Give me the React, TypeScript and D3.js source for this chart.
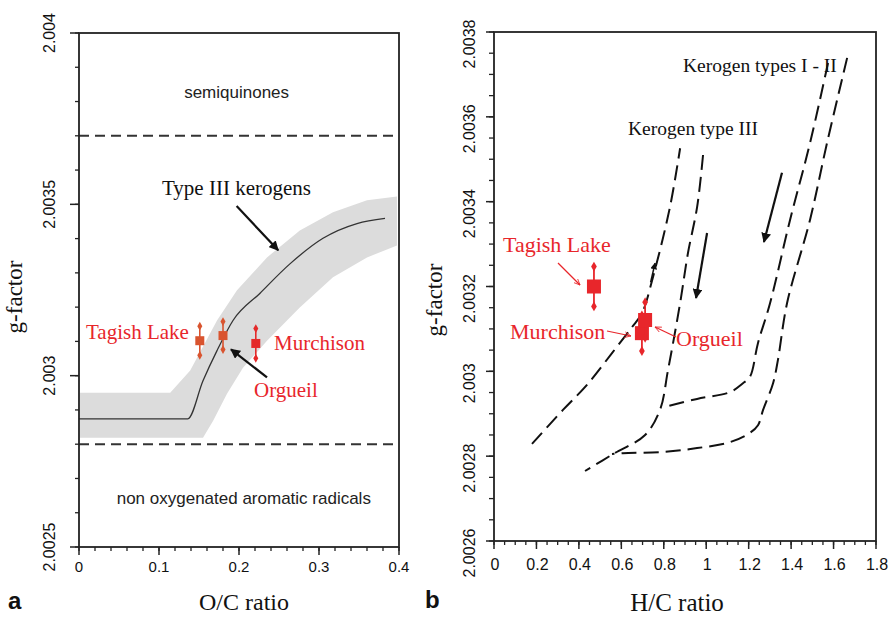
import React, { useEffect } from 'react';
import * as d3 from 'd3';

// ---- panel a : O/C ratio ----
const aXTicks = [0, 0.1, 0.2, 0.3, 0.4];
const aYTicks = [2.0025, 2.003, 2.0035, 2.004];
const aBoundaries = [2.0037, 2.0028];

const aTrend = [
  [0, 2.002874], [0.136, 2.002874], [0.155, 2.002985], [0.1725, 2.003073],
  [0.1925, 2.003161], [0.226, 2.00324], [0.264, 2.003327], [0.305, 2.003401],
  [0.3475, 2.003444], [0.3825, 2.003459],
];
const aBandTop = [
  [0.001, 2.00295], [0.114, 2.00295], [0.139, 2.003015], [0.1725, 2.003161],
  [0.1975, 2.003249], [0.235, 2.003345], [0.276, 2.003424], [0.3175, 2.003477],
  [0.36, 2.003512], [0.3975, 2.003523],
];
const aBandBottom = [
  [0.3975, 2.00338], [0.36, 2.003345], [0.3175, 2.003287], [0.276, 2.003199],
  [0.235, 2.003102], [0.205, 2.003023], [0.185, 2.002947], [0.1675, 2.002868],
  [0.155, 2.002819], [0.001, 2.002819],
];

const aSamples = [
  { name: 'Tagish Lake', oc: 0.151, g: 2.003102, err: 0.0000425, color: '#d9542f' },
  { name: 'Orgueil', oc: 0.18, g: 2.003117, err: 0.000041, color: '#d9542f' },
  { name: 'Murchison', oc: 0.221, g: 2.003094, err: 0.0000435, color: '#e42a2a' },
];

// ---- panel b : H/C ratio ----
const bXTicks = [0, 0.2, 0.4, 0.6, 0.8, 1, 1.2, 1.4, 1.6, 1.8];
const bYTicks = [2.0026, 2.0028, 2.003, 2.0032, 2.0034, 2.0036, 2.0038];

const bTypeIIIa = [
  [0.179, 2.002829], [0.325, 2.002909], [0.438, 2.002968], [0.556, 2.003043],
  [0.65, 2.003104], [0.697, 2.003137], [0.749, 2.003222], [0.829, 2.003387],
  [0.877, 2.003526],
];
const bTypeIIIb = [
  [0.985, 2.00351], [0.957, 2.003387], [0.914, 2.003279], [0.877, 2.003161],
  [0.82, 2.003003], [0.782, 2.002909], [0.712, 2.00285], [0.561, 2.002805],
  [0.429, 2.002765],
];
const bTypeIa = [
  [1.574, 2.003727], [1.489, 2.003538], [1.395, 2.003357], [1.301, 2.003161],
  [1.244, 2.003067], [1.206, 2.002987], [1.173, 2.002972], [1.112, 2.002951],
  [0.957, 2.002935], [0.82, 2.002918],
];
const bTypeIb = [
  [1.664, 2.003739], [1.569, 2.003538], [1.489, 2.003357], [1.381, 2.003161],
  [1.338, 2.003027], [1.315, 2.002972], [1.268, 2.002909], [1.244, 2.002873],
  [1.206, 2.002855], [1.112, 2.002833], [0.957, 2.002819], [0.796, 2.00281],
  [0.608, 2.002807], [0.556, 2.002805],
];
const bArrows = [
  [[1.357, 2.003468], [1.272, 2.003305]],
  [[1.004, 2.003326], [0.952, 2.003173]],
  [[0.738, 2.00321], [0.759, 2.003255]],
];

const bSamples = [
  { name: 'Tagish Lake', hc: 0.471, g: 2.0032, err: 0.000047 },
  { name: 'Murchison', hc: 0.697, g: 2.00309, err: 0.000042 },
  { name: 'Orgueil', hc: 0.712, g: 2.003121, err: 0.000042 },
];

const serif = '"Liberation Serif", "Times New Roman", serif';
const sans = '"Liberation Sans", Arial, sans-serif';
const red = '#e8262b';
const ink = '#111';

export default function App() {
  useEffect(() => {
    document.body.style.margin = '0';
  }, []);

  const aX = d3.scaleLinear().domain([0, 0.4]).range([79, 399]);
  const aY = d3.scaleLinear().domain([2.0025, 2.004]).range([547, 33]);
  const bX = d3.scaleLinear().domain([0, 1.8]).range([494, 876]);
  const bY = d3.scaleLinear().domain([2.0026, 2.0038]).range([541, 32]);

  const aLine = d3.line().x(d => aX(d[0])).y(d => aY(d[1])).curve(d3.curveMonotoneX);
  const bandLine = d3.line().x(d => aX(d[0])).y(d => aY(d[1])).curve(d3.curveLinearClosed);
  const bLine = d3.line().x(d => bX(d[0])).y(d => bY(d[1])).curve(d3.curveCatmullRom);

  const fmt = d3.format('.5~f');
  const aXMinor = d3.range(0, 0.4001, 0.02);
  const aYMinor = d3.range(2.0025, 2.00400001, 0.0001);
  const bXMinor = d3.range(0, 1.8001, 0.05);
  const bYMinor = d3.range(2.0026, 2.00380001, 0.00005);

  const diamond = d3.symbol().type(d3.symbolDiamond);

  return (
    <svg width={890} height={617} style={{ display: 'block', background: '#fff' }}>
      <defs>
        <marker id="headBlack" viewBox="0 0 10 10" refX="9" refY="5" markerWidth="4.5" markerHeight="4.5" orient="auto">
          <path d="M0,0 L10,5 L0,10 z" fill={ink} />
        </marker>
        <marker id="headRed" viewBox="0 0 10 10" refX="9" refY="5" markerWidth="7" markerHeight="7" orient="auto" markerUnits="userSpaceOnUse">
          <path d="M0,1 L9,5 L0,9" fill="none" stroke={red} strokeWidth="1.2" />
        </marker>
      </defs>

      {/* ======== panel a ======== */}
      <path d={bandLine([...aBandTop, ...aBandBottom]) || ''} fill="#dcdcdc" />
      <path d={aLine(aTrend) || ''} fill="none" stroke="#333" strokeWidth={1.3} />
      {aBoundaries.map(v => (
        <line key={v} x1={aX(0)} x2={aX(0.4)} y1={aY(v)} y2={aY(v)}
          stroke="#333" strokeWidth={2} strokeDasharray="10,6" />
      ))}
      <rect x={aX(0)} y={aY(2.004)} width={aX(0.4) - aX(0)} height={aY(2.0025) - aY(2.004)}
        fill="none" stroke="#222" strokeWidth={1.8} />

      {aXMinor.map(v => (
        <line key={'axm' + v} x1={aX(v)} x2={aX(v)} y1={aY(2.0025)} y2={aY(2.0025) + 4} stroke="#222" strokeWidth={1.3} />
      ))}
      {aXTicks.map(v => (
        <g key={'axt' + v}>
          <line x1={aX(v)} x2={aX(v)} y1={aY(2.0025)} y2={aY(2.0025) + 8} stroke="#222" strokeWidth={1.5} />
          <text x={aX(v)} y={572} textAnchor="middle" fontFamily={sans} fontSize={15} fill={ink}>{fmt(v)}</text>
        </g>
      ))}
      {aYMinor.map(v => (
        <line key={'aym' + v} x1={aX(0) - 4} x2={aX(0)} y1={aY(v)} y2={aY(v)} stroke="#222" strokeWidth={1.3} />
      ))}
      {aYTicks.map(v => (
        <g key={'ayt' + v}>
          <line x1={aX(0) - 9} x2={aX(0)} y1={aY(v)} y2={aY(v)} stroke="#222" strokeWidth={1.5} />
          <text transform={`translate(55,${aY(v)}) rotate(-90)`} textAnchor="middle" fontFamily={sans} fontSize={16} fill={ink}>{fmt(v)}</text>
        </g>
      ))}

      <text x={aX(0.197)} y={98} textAnchor="middle" fontFamily={sans} fontSize={17} fill="#222">semiquinones</text>
      <text x={aX(0.206)} y={504} textAnchor="middle" fontFamily={sans} fontSize={17} fill="#222">non oxygenated aromatic radicals</text>
      <text x={162} y={195} fontFamily={serif} fontSize={21} fill={ink}>Type III kerogens</text>
      <line x1={aX(0.197)} y1={aY(2.003495)} x2={aX(0.249)} y2={aY(2.003366)} stroke={ink} strokeWidth={2.2} markerEnd="url(#headBlack)" />

      {aSamples.map(s => (
        <g key={'as' + s.name}>
          <line x1={aX(s.oc)} x2={aX(s.oc)} y1={aY(s.g - s.err)} y2={aY(s.g + s.err)} stroke={s.color} strokeWidth={1.6} />
          <path d={diamond.size(22)() || ''} transform={`translate(${aX(s.oc)},${aY(s.g + s.err)})`} fill={s.color} />
          <path d={diamond.size(22)() || ''} transform={`translate(${aX(s.oc)},${aY(s.g - s.err)})`} fill={s.color} />
          <rect x={aX(s.oc) - 4.5} y={aY(s.g) - 4.5} width={9} height={9} fill={s.color} />
        </g>
      ))}
      <text x={86} y={339} fontFamily={serif} fontSize={21} fill={red}>Tagish Lake</text>
      <text x={274} y={350} fontFamily={serif} fontSize={21} fill={red}>Murchison</text>
      <text x={254} y={397} fontFamily={serif} fontSize={21} fill={red}>Orgueil</text>
      <line x1={aX(0.235)} y1={aY(2.002995)} x2={aX(0.19)} y2={aY(2.003077)} stroke={ink} strokeWidth={2.2} markerEnd="url(#headBlack)" />

      <text x={8} y={609} fontFamily={sans} fontWeight="bold" fontSize={24} fill={ink}>a</text>
      <text x={244} y={610} textAnchor="middle" fontFamily={serif} fontSize={24} fill={ink}>O/C ratio</text>
      <text transform={`translate(22,297) rotate(-90)`} textAnchor="middle" fontFamily={serif} fontSize={23} fill={ink}>g-factor</text>

      {/* ======== panel b ======== */}
      <rect x={bX(0)} y={bY(2.0038)} width={bX(1.8) - bX(0)} height={bY(2.0026) - bY(2.0038)}
        fill="none" stroke="#222" strokeWidth={1.8} />
      {bXMinor.map(v => (
        <line key={'bxm' + v} x1={bX(v)} x2={bX(v)} y1={bY(2.0026)} y2={bY(2.0026) + 4} stroke="#222" strokeWidth={1.3} />
      ))}
      {bXTicks.map(v => (
        <g key={'bxt' + v}>
          <line x1={bX(v)} x2={bX(v)} y1={bY(2.0026)} y2={bY(2.0026) + 8} stroke="#222" strokeWidth={1.5} />
          <text x={bX(v) + 1} y={570} textAnchor="middle" fontFamily={sans} fontSize={16} fill={ink}>{fmt(v)}</text>
        </g>
      ))}
      {bYMinor.map(v => (
        <line key={'bym' + v} x1={bX(0) - 5} x2={bX(0)} y1={bY(v)} y2={bY(v)} stroke="#222" strokeWidth={1.3} />
      ))}
      {bYTicks.map(v => (
        <g key={'byt' + v}>
          <line x1={bX(0) - 8} x2={bX(0)} y1={bY(v)} y2={bY(v)} stroke="#222" strokeWidth={1.5} />
          <text transform={`translate(475,${bY(v) + 12}) rotate(-90)`} textAnchor="middle" fontFamily={sans} fontSize={16} fill={ink}>{fmt(v)}</text>
        </g>
      ))}

      {[bTypeIIIa, bTypeIIIb, bTypeIa, bTypeIb].map((c, i) => (
        <path key={'bc' + i} d={bLine(c) || ''} fill="none" stroke={ink} strokeWidth={2} strokeDasharray="15,7" />
      ))}
      {bArrows.map((a, i) => (
        <line key={'ba' + i} x1={bX(a[0][0])} y1={bY(a[0][1])} x2={bX(a[1][0])} y2={bY(a[1][1])}
          stroke={ink} strokeWidth={i < 2 ? 2.2 : 1.5} markerEnd="url(#headBlack)" />
      ))}

      <text x={683} y={72} fontFamily={serif} fontSize={19.5} fill={ink}>Kerogen types I - II</text>
      <text x={628} y={135} fontFamily={serif} fontSize={19.5} fill={ink}>Kerogen type III</text>

      {bSamples.map(s => (
        <g key={'bs' + s.name}>
          <line x1={bX(s.hc)} x2={bX(s.hc)} y1={bY(s.g - s.err)} y2={bY(s.g + s.err)} stroke={red} strokeWidth={1.8} />
          <path d={diamond.size(28)() || ''} transform={`translate(${bX(s.hc)},${bY(s.g + s.err)})`} fill={red} />
          <path d={diamond.size(28)() || ''} transform={`translate(${bX(s.hc)},${bY(s.g - s.err)})`} fill={red} />
          <rect x={bX(s.hc) - 7} y={bY(s.g) - 7} width={14} height={14} fill={red} />
        </g>
      ))}
      <text x={503} y={252} fontFamily={serif} fontSize={22} fill={red}>Tagish Lake</text>
      <line x1={558} y1={263} x2={580} y2={285} stroke={red} strokeWidth={1.2} markerEnd="url(#headRed)" />
      <text x={510} y={339} fontFamily={serif} fontSize={22} fill={red}>Murchison</text>
      <line x1={607} y1={331} x2={631} y2={336} stroke={red} strokeWidth={1.2} markerEnd="url(#headRed)" />
      <text x={676} y={346} fontFamily={serif} fontSize={22} fill={red}>Orgueil</text>
      <line x1={676} y1={337} x2={655} y2={327} stroke={red} strokeWidth={1.2} markerEnd="url(#headRed)" />

      <text x={425} y={608} fontFamily={sans} fontWeight="bold" fontSize={24} fill={ink}>b</text>
      <text x={677} y={611} textAnchor="middle" fontFamily={serif} fontSize={25} fill={ink}>H/C ratio</text>
      <text transform={`translate(442,300) rotate(-90)`} textAnchor="middle" fontFamily={serif} fontSize={23} fill={ink}>g-factor</text>
    </svg>
  );
}
